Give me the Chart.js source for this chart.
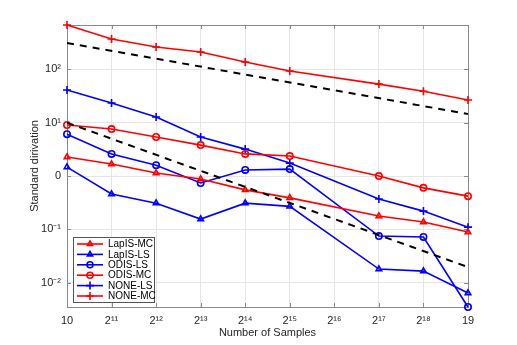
<!DOCTYPE html>
<html>
<head>
<meta charset="utf-8">
<script src="https://cdn.jsdelivr.net/npm/chart.js@4.4.1/dist/chart.umd.min.js"></script>
<style>
  html, body { margin: 0; padding: 0; background: #fff; }
</style>
</head>
<body>
<canvas id="sdChart" width="517" height="345"></canvas>
<script>
    // x positions are log2 of the number of samples (2^16 has no measurement)
    const samplePowers = [10, 11, 12, 13, 14, 15, 17, 18, 19];
    const xTickValues = [10, 11, 12, 13, 14, 15, 16, 17, 18, 19];
    const xTickLabels = ['10', '2¹¹', '2¹²', '2¹³', '2¹⁴', '2¹⁵', '2¹⁶', '2¹⁷', '2¹⁸', '19'];
    const yTickValues = [100, 10, 1, 0.1, 0.01];
    const yTickLabels = ['10²', '10¹', '0', '10⁻¹', '10⁻²'];

    const lapisMC = [2.27, 1.68, 1.14, 0.88, 0.55, 0.39, 0.178, 0.137, 0.089];
    const lapisLS = [1.47, 0.46, 0.31, 0.156, 0.31, 0.27, 0.018, 0.0165, 0.0064];
    const odisLS = [6.1, 2.6, 1.6, 0.74, 1.3, 1.35, 0.075, 0.072, 0.0035];
    const odisMC = [9.06, 7.6, 5.4, 3.8, 2.6, 2.37, 1.0, 0.6, 0.42];
    const noneLS = [41, 23.4, 12.8, 5.4, 3.2, 1.75, 0.37, 0.22, 0.11];
    const noneMC = [680, 372, 263, 212, 138, 93, 53, 39, 26.7];

    // reference slopes (dashed), end points only
    const refPowers = [10, 19];
    const refUpper = [313, 14.6];
    const refLower = [10, 0.0196];

    const RED = '#ff0000';
    const BLUE = '#0000ff';

    function pts(xs, ys) {
      return xs.map((x, i) => ({ x: x, y: ys[i] }));
    }

    function series(label, values, color, style) {
      return {
        label: label,
        data: pts(samplePowers, values),
        borderColor: color,
        backgroundColor: 'rgba(0,0,0,0)',
        borderWidth: 1.6,
        pointStyle: style,
        pointRadius: style === 'cross' ? 4 : 3.2,
        pointBorderWidth: 1.6,
        pointBorderColor: color,
        pointBackgroundColor: 'rgba(0,0,0,0)',
        tension: 0,
        clip: false,
        inLegend: true
      };
    }

    function refLine(values) {
      return {
        label: '',
        data: pts(refPowers, values),
        borderColor: '#000',
        borderWidth: 2,
        borderDash: [7, 6],
        pointRadius: 0,
        tension: 0,
        inLegend: false
      };
    }

    const boxPlugin = {
      id: 'matlabBox',
      beforeDatasetsDraw(chart) {
        const { ctx, chartArea: a, scales } = chart;
        ctx.save();
        ctx.strokeStyle = '#8a8a8a';
        ctx.lineWidth = 1;
        ctx.strokeRect(a.left + 0.5, a.top + 0.5, a.right - a.left, a.bottom - a.top);
        ctx.beginPath();
        xTickValues.forEach(v => {
          const x = Math.round(scales.x.getPixelForValue(v)) + 0.5;
          ctx.moveTo(x, a.bottom); ctx.lineTo(x, a.bottom - 4);
          ctx.moveTo(x, a.top); ctx.lineTo(x, a.top + 4);
        });
        yTickValues.forEach(v => {
          const y = Math.round(scales.y.getPixelForValue(v)) + 0.5;
          ctx.moveTo(a.left, y); ctx.lineTo(a.left + 4, y);
          ctx.moveTo(a.right, y); ctx.lineTo(a.right - 4, y);
        });
        ctx.stroke();
        ctx.restore();
      },
      afterDraw(chart) {
        const ctx = chart.ctx;
        const items = chart.data.datasets.filter(d => d.inLegend);
        const bx = 73, by = 237, bw = 81, bh = 65, rowH = 10.4;
        ctx.save();
        ctx.fillStyle = '#fff';
        ctx.fillRect(bx, by, bw, bh);
        ctx.strokeStyle = '#555';
        ctx.lineWidth = 1;
        ctx.strokeRect(bx + 0.5, by + 0.5, bw, bh);
        ctx.font = '10px "Liberation Sans", Arial, sans-serif';
        ctx.textBaseline = 'middle';
        items.forEach((d, i) => {
          const y = by + 7 + i * rowH;
          ctx.strokeStyle = d.borderColor;
          ctx.lineWidth = 1.6;
          ctx.beginPath();
          ctx.moveTo(bx + 4, y); ctx.lineTo(bx + 30, y);
          ctx.stroke();
          ctx.fillStyle = 'rgba(0,0,0,0)';
          ctx.strokeStyle = d.borderColor;
          ctx.lineWidth = 1.6;
          Chart.helpers.drawPoint(ctx, {
            pointStyle: d.pointStyle,
            radius: d.pointStyle === 'cross' ? 4 : 3,
            borderWidth: 1.6,
            rotation: 0
          }, bx + 17, y);
          ctx.fillStyle = '#000';
          ctx.fillText(d.label, bx + 35, y + 0.5);
        });
        ctx.restore();
      }
    };

    const sdChart = new Chart(document.getElementById('sdChart'), {
      type: 'line',
      data: {
        datasets: [
          refLine(refUpper),
          refLine(refLower),
          series('LapIS-MC', lapisMC, RED, 'triangle'),
          series('LapIS-LS', lapisLS, BLUE, 'triangle'),
          series('ODIS-LS', odisLS, BLUE, 'circle'),
          series('ODIS-MC', odisMC, RED, 'circle'),
          series('NONE-LS', noneLS, BLUE, 'cross'),
          series('NONE-MC', noneMC, RED, 'cross')
        ]
      },
      options: {
        responsive: false,
        animation: false,
        layout: { padding: { top: 25, right: 49, left: 0, bottom: 0 } },
        plugins: {
          legend: { display: false },
          tooltip: { enabled: false }
        },
        scales: {
          x: {
            type: 'linear',
            min: 10,
            max: 19,
            afterBuildTicks: s => { s.ticks = xTickValues.map(v => ({ value: v })); },
            afterFit: s => { s.height = 38; },
            grid: { color: '#e6e6e6', drawTicks: false },
            border: { display: false },
            ticks: {
              padding: 7,
              maxRotation: 0,
              autoSkip: false,
              color: '#262626',
              font: { family: '"Liberation Sans", Arial, sans-serif', size: 11 },
              callback: v => xTickLabels[xTickValues.indexOf(v)]
            },
            title: {
              display: true,
              text: 'Number of Samples',
              color: '#262626',
              padding: { top: 0, bottom: 5 },
              font: { family: '"Liberation Sans", Arial, sans-serif', size: 11 }
            }
          },
          y: {
            type: 'logarithmic',
            min: 0.0035,
            max: 680,
            afterBuildTicks: s => { s.ticks = yTickValues.map(v => ({ value: v })); },
            afterFit: s => { s.width = 67; },
            grid: { color: '#e6e6e6', drawTicks: false },
            border: { display: false },
            ticks: {
              padding: 6,
              color: '#262626',
              font: { family: '"Liberation Sans", Arial, sans-serif', size: 11 },
              callback: v => yTickLabels[yTickValues.indexOf(v)]
            },
            title: {
              display: true,
              text: 'Standard dirivation',
              color: '#262626',
              padding: { top: 28, bottom: 0 },
              font: { family: '"Liberation Sans", Arial, sans-serif', size: 11 }
            }
          }
        }
      },
      plugins: [boxPlugin]
    });
</script>
</body>
</html>
